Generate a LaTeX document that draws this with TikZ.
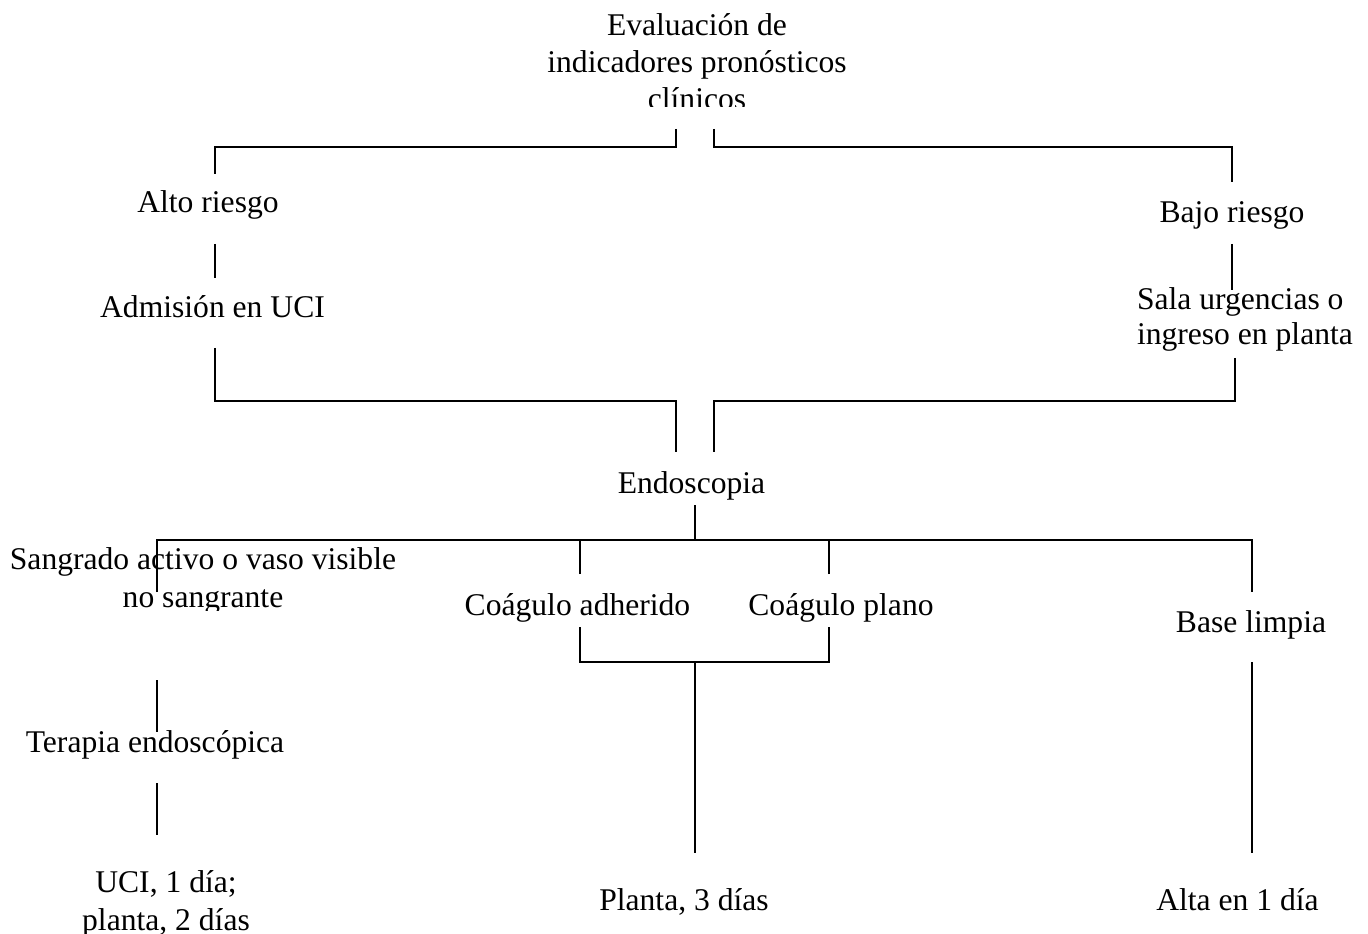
\documentclass[tikz,border=0pt]{standalone}
\usepackage{fontspec}
\setmainfont{Liberation Serif}
\usetikzlibrary{calc}
\begin{document}
\begin{tikzpicture}[x=0.75pt,y=-0.75pt,
  lbl/.style={inner sep=0pt, outer sep=0pt, anchor=base, align=center,
              font=\fontsize{23.7}{28.1}\selectfont},
  lbltwo/.style={lbl, font=\fontsize{23.7}{26.3}\selectfont},
  conn/.style={line width=1.4pt, line cap=butt, line join=miter}]
\useasboundingbox (0,0) rectangle (1368,934);

% ---- labels (multi-line labels are placed by their last baseline) ----
\begin{scope}
  \clip (0,0) rectangle (1368,107);
  \node[lbl] (eval) at (697,110) {Evaluación de\\indicadores pronósticos\\clínicos};
\end{scope}
\node[lbl] (alto) at (208,213) {Alto riesgo};
\node[lbl] (uci) at (212.5,318) {Admisión en UCI};
\node[lbl] (bajo) at (1232,223) {Bajo riesgo};
\node[lbltwo, align=left, anchor=base west] (sala) at (1137,345) {Sala urgencias o\\ingreso en planta};
\node[lbl] (endo) at (691.5,493) {Endoscopia};
\begin{scope}
  \clip (0,500) rectangle (460,610);
  \node[lbl] (sangr) at (203,607) {Sangrado activo o vaso visible\\no sangrante};
\end{scope}
\node[lbl] (adher) at (577.5,615) {Coágulo adherido};
\node[lbl] (plano) at (841,615) {Coágulo plano};
\node[lbl] (limpia) at (1251,632) {Base limpia};
\node[lbl] (terapia) at (155,752) {Terapia endoscópica};
\node[lbl] (ucidia) at (166,930) {UCI, 1 día;\\planta, 2 días};
\node[lbl] (planta3) at (684,910) {Planta, 3 días};
\node[lbl] (alta) at (1237.5,910) {Alta en 1 día};

% ---- connector end points ----
\coordinate (evalL) at (676,129);
\coordinate (evalR) at (714,129);
\coordinate (altoT) at (215,174);
\coordinate (bajoT) at (1232,182);
\coordinate (altoB) at (215,244);
\coordinate (uciT) at (215,278);
\coordinate (bajoB) at (1232,244);
\coordinate (salaT) at (1232,290);
\coordinate (uciB) at (215,348);
\coordinate (salaB) at (1235,358);
\coordinate (endoL) at (676,452);
\coordinate (endoR) at (714,452);
\coordinate (endoB) at (695,505);
\coordinate (sangrT) at (157,592);
\coordinate (adherT) at (580,574);
\coordinate (planoT) at (829,574);
\coordinate (limpiaT) at (1252,592);
\coordinate (adherB) at (580,627);
\coordinate (planoB) at (829,627);
\coordinate (coagJ) at (695,662);
\coordinate (planta3T) at (695,853);
\coordinate (limpiaB) at (1252,662);
\coordinate (altaT) at (1252,853);
\coordinate (sangrB) at (157,680);
\coordinate (terapiaT) at (157,732);
\coordinate (terapiaB) at (157,783);
\coordinate (ucidiaT) at (157,835);

% ---- connectors ----
\draw[conn] (evalL) -- ++(0,18) -| (altoT);
\draw[conn] (evalR) -- ++(0,18) -| (bajoT);
\draw[conn] (altoB) -- (uciT);
\draw[conn] (bajoB) -- (salaT);
\draw[conn] (uciB) |- ($(endoL)+(0,-51)$) -- (endoL);
\draw[conn] (salaB) |- ($(endoR)+(0,-51)$) -- (endoR);
\draw[conn] (endoB) -- ++(0,35) coordinate (endoJ);
\draw[conn] (sangrT) |- (endoJ) -| (limpiaT);
\draw[conn] (adherT) -- (adherT |- endoJ);
\draw[conn] (planoT) -- (planoT |- endoJ);
\draw[conn] (adherB) |- (coagJ) -| (planoB);
\draw[conn] (coagJ) -- (planta3T);
\draw[conn] (limpiaB) -- (altaT);
\draw[conn] (sangrB) -- (terapiaT);
\draw[conn] (terapiaB) -- (ucidiaT);
\end{tikzpicture}
\end{document}
